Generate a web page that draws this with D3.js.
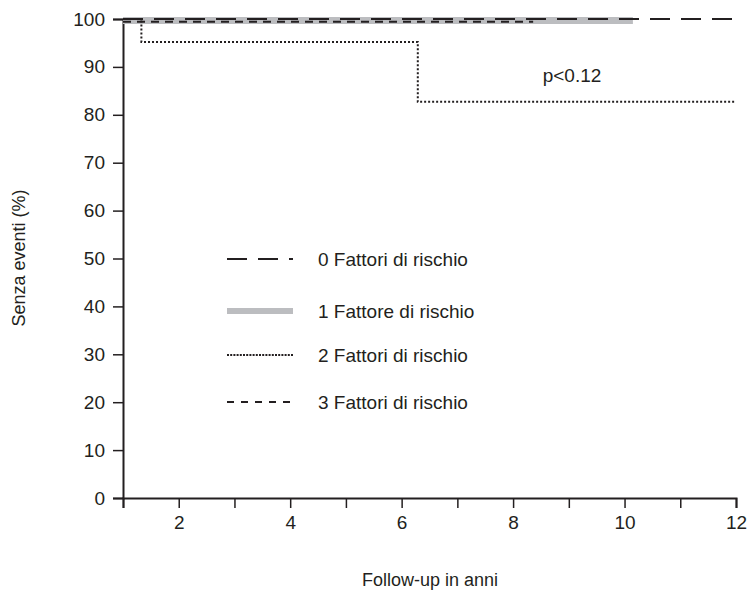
<!DOCTYPE html>
<html>
<head>
<meta charset="utf-8">
<script src="https://cdn.jsdelivr.net/npm/d3@7"></script>
<style>
  body { margin: 0; background: #fff; }
  svg text { font-family: "Liberation Sans", Arial, sans-serif; fill: #231f20; }
</style>
</head>
<body>
<svg id="chart" width="751" height="594"></svg>
<script>
// Kaplan-Meier style step curves (x = anni, y = % senza eventi)
const curve0 = [[1, 100], [12, 100]];
const curve1 = [[1, 99.7], [10.15, 99.7]];
const curve2 = [[1, 100], [1.33, 100], [1.33, 95.2], [6.29, 95.2], [6.29, 82.7], [12, 82.7]];
const curve3 = [[1, 99.4], [8.36, 99.4]];

const legendLabels = ['0 Fattori di rischio', '1 Fattore di rischio', '2 Fattori di rischio', '3 Fattori di rischio'];
const xTicks = [1,2,3,4,5,6,7,8,9,10,11,12];
const xTickLabels = [2,4,6,8,10,12];
const yTicks = [0,10,20,30,40,50,60,70,80,90,100];

const styles = [
  { stroke: '#231f20', width: 2, dash: '20,11' },
  { stroke: '#bcbdc0', width: 7, dash: null },
  { stroke: '#231f20', width: 2, dash: '2,2' },
  { stroke: '#231f20', width: 2, dash: '8,6' }
];

const fs = '19px';

const svg = d3.select('#chart');

let x = d3.scaleLinear().domain([1, 12]).range([123, 736]);
let y = d3.scaleLinear().domain([0, 100]).range([498, 19]);

let line = d3.line()
.x(d => x(d[0]))
.y(d => y(d[1]));

// y axis
const yAxis = svg.append('g')
.attr('transform', 'translate(123,0)')
.call(d3.axisLeft(y).tickValues(yTicks).tickSize(10).tickPadding(8));

yAxis.selectAll('.tick text').style('font-size', fs);

// x axis
const xAxis = svg.append('g')
.attr('transform', 'translate(0,498)')
.call(d3.axisBottom(x).tickValues(xTicks).tickSize(10).tickPadding(8)
  .tickFormat(d => xTickLabels.indexOf(d) != -1 ? d : ''));

xAxis.selectAll('.tick text').style('font-size', fs);

[xAxis, yAxis].forEach(a => {
  a.attr('font-family', null);
  a.select('.domain').attr('stroke', '#231f20').attr('stroke-width', 2);
  a.selectAll('.tick line').attr('stroke', '#231f20').attr('stroke-width', 1.5);
});

// curves (gray band first, then black lines on top)
const curves = [curve1, curve3, curve2, curve0];
const order = [1, 3, 2, 0];

curves.forEach((c, i) => {
  const s = styles[order[i]];
  svg.append('path')
  .datum(c)
  .attr('d', line)
  .attr('fill', 'none')
  .attr('stroke', s.stroke)
  .attr('stroke-width', s.width)
  .attr('stroke-dasharray', s.dash);
});

// legend
const legendRowY = [259, 311, 355, 402];
legendLabels.forEach((lab, i) => {
  const s = styles[i];
  svg.append('line')
  .attr('x1', 227).attr('x2', 293)
  .attr('y1', legendRowY[i]).attr('y2', legendRowY[i])
  .attr('stroke', s.stroke)
  .attr('stroke-width', i == 1 ? 6 : 2)
  .attr('stroke-dasharray', i == 3 ? '7,7' : (i == 2 ? '2,1.2' : s.dash));

  svg.append('text')
  .attr('x', 318)
  .attr('y', legendRowY[i] + 7)
  .style('font-size', fs)
  .text(lab);
});

// p value
svg.append('text')
.attr('x', 572).attr('y', 82)
.attr('text-anchor', 'middle')
.style('font-size', fs)
.text('p<0.12');

// axis titles
svg.append('text')
.attr('transform', 'translate(25,258) rotate(-90)')
.attr('text-anchor', 'middle')
.style('font-size', '18px')
.text('Senza eventi (%)');

svg.append('text')
.attr('x', 430).attr('y', 586)
.attr('text-anchor', 'middle')
.style('font-size', '18px')
.text('Follow-up in anni');
</script>
</body>
</html>
